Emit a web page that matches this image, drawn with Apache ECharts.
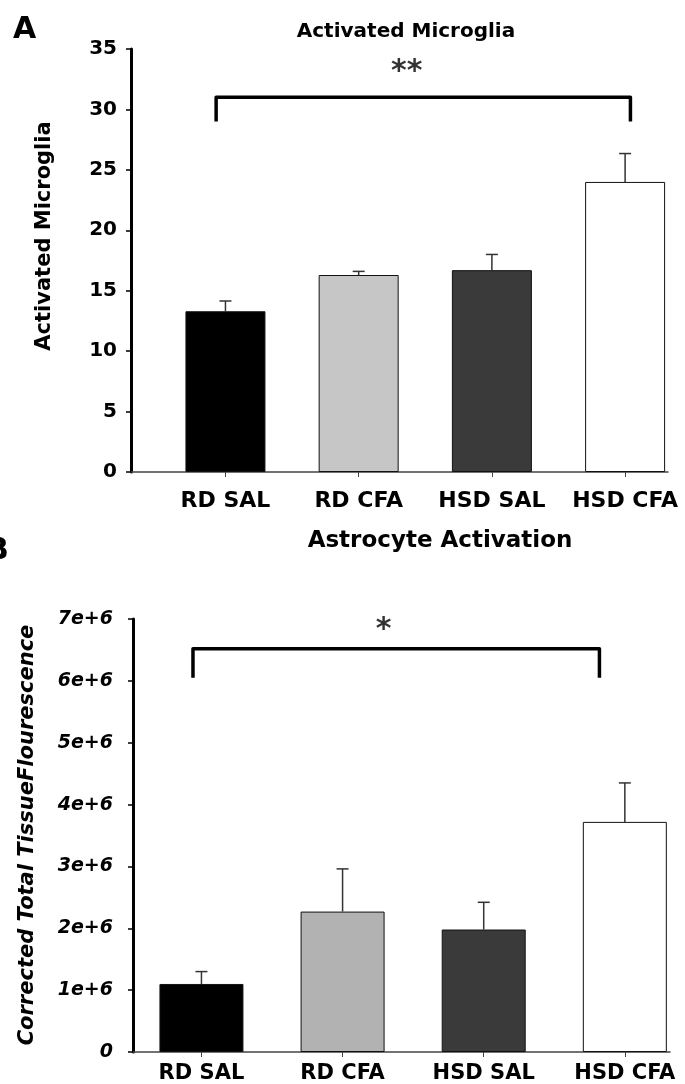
<!DOCTYPE html>
<html>
<head>
<meta charset="utf-8">
<script src="https://cdn.jsdelivr.net/npm/echarts@6/dist/echarts.min.js"></script>
<style>
  html, body { margin: 0; padding: 0; background: #fff; }
  #chart { width: 685px; height: 1084px; }
</style>
</head>
<body>
<div id="chart"></div>
<script>
const categories = ["RD SAL", "RD CFA", "HSD SAL", "HSD CFA"];

// panel A - activated microglia
const microgliaMean = [13.3, 16.3, 16.7, 24.0];
const microgliaErr = [0.85, 0.3, 1.3, 2.35];
const microgliaTicks = [0, 5, 10, 15, 20, 25, 30, 35];
const microgliaSig = [-0.07, 3.04, 29, 31]; // from, to, leg bottom, bar top
const microgliaStars = ["**", 1.36, 33.1];

// panel B - astrocyte activation
const astroMean = [1.1e6, 2.27e6, 1.98e6, 3.72e6];
const astroErr = [0.2e6, 0.69e6, 0.44e6, 0.63e6];
const astroTicks = [0, 1e6, 2e6, 3e6, 4e6, 5e6, 6e6, 7e6];
const astroSig = [-0.06, 2.82, 6.05e6, 6.52e6];
const astroStars = ["*", 1.29, 6.82e6];

const colorsA = ["#000000", "#c6c6c6", "#3a3a3a", "#ffffff"];
const colorsB = ["#000000", "#b2b2b2", "#3a3a3a", "#ffffff"];
const font = "DejaVu Sans";

const chart = echarts.init(document.getElementById("chart"));

function barData(vals, colors) {
  return vals.map((v, i) => ({ value: [i, v], itemStyle: { color: colors[i] } }));
}

function errData(mean, err) {
  return mean.map((v, i) => [i, v, v + err[i]]);
}

function renderErr(params, api) {
  const lo = api.coord([api.value(0), api.value(1)]);
  const hi = api.coord([api.value(0), api.value(2)]);
  const style = { stroke: "#333", lineWidth: 1.5 };
  return {
    type: "group",
    children: [
      { type: "line", shape: { x1: lo[0], y1: lo[1], x2: hi[0], y2: hi[1] }, style },
      { type: "line", shape: { x1: hi[0] - 6, y1: hi[1], x2: hi[0] + 6, y2: hi[1] }, style },
    ],
  };
}

function bracket(sig) {
  return [[sig[0], sig[2]], [sig[0], sig[3]], [sig[1], sig[3]], [sig[1], sig[2]]];
}

function starSeries(axis, stars) {
  return {
    type: "scatter",
    xAxisIndex: axis,
    yAxisIndex: axis,
    symbolSize: 0,
    label: {
      show: true,
      formatter: stars[0],
      color: "#000",
      fontFamily: font,
      fontWeight: "bold",
      fontSize: 30,
    },
    data: [[stars[1], stars[2]]],
  };
}

function xAxisOpt(gridIndex, min, max, margin, size) {
  return {
    type: "value",
    gridIndex,
    min,
    max,
    axisLine: { show: true, onZero: false, lineStyle: { color: "#444", width: 1.5 } },
    axisTick: { show: true, customValues: [0, 1, 2, 3], length: 5, lineStyle: { color: "#444" } },
    axisLabel: {
      customValues: [0, 1, 2, 3],
      formatter: (v) => categories[Math.round(v)],
      margin,
      color: "#000",
      fontFamily: font,
      fontWeight: "bold",
      fontSize: size,
    },
    splitLine: { show: false },
  };
}

function yAxisOpt(gridIndex, ticks, italic, labelSize, fmt, margin) {
  return {
    type: "value",
    gridIndex,
    min: ticks[0],
    max: ticks[ticks.length - 1],
    interval: ticks[1] - ticks[0],
    axisLine: { show: true, onZero: false, lineStyle: { color: "#000", width: 3 } },
    axisTick: { show: true, length: 5, lineStyle: { color: "#000", width: 1.5 } },
    axisLabel: {
      color: "#000",
      fontFamily: font,
      fontWeight: "bold",
      fontStyle: italic ? "italic" : "normal",
      fontSize: labelSize,
      margin,
      formatter: fmt,
    },
    splitLine: { show: false },
  };
}

chart.setOption({
  animation: false,
  grid: [
    { left: 131, top: 49, width: 537, height: 423 },
    { left: 133, top: 619, width: 537, height: 433 },
  ],
  xAxis: [
    xAxisOpt(0, -0.709, 3.322, 18, 22),
    xAxisOpt(1, -0.485, 3.32, 11, 21),
  ],
  yAxis: [
    yAxisOpt(0, microgliaTicks, false, 20, (v) => String(v), 14),
    yAxisOpt(1, astroTicks, true, 19, (v) => (v === 0 ? "0" : v / 1e6 + "e+6"), 20),
  ],
  graphic: [
    { type: "text", x: 13, y: 30, style: { text: "A", font: `bold 30px "${font}"`, fill: "#000", textVerticalAlign: "middle" } },
    { type: "text", x: 406, y: 32, style: { text: "Activated Microglia", font: `bold 20px "${font}"`, fill: "#000", textAlign: "center", textVerticalAlign: "middle" } },
    { type: "text", x: 45, y: 236, rotation: Math.PI / 2, style: { text: "Activated Microglia", font: `bold 21px "${font}"`, fill: "#000", textAlign: "center", textVerticalAlign: "middle" } },
    { type: "text", x: -14, y: 551, style: { text: "B", font: `bold 30px "${font}"`, fill: "#000", textVerticalAlign: "middle" } },
    { type: "text", x: 440, y: 541, style: { text: "Astrocyte Activation", font: `bold 23px "${font}"`, fill: "#000", textAlign: "center", textVerticalAlign: "middle" } },
    { type: "text", x: 28, y: 835, rotation: Math.PI / 2, style: { text: "Corrected Total TissueFlourescence", font: `italic bold 21px "${font}"`, fill: "#000", textAlign: "center", textVerticalAlign: "middle" } },
  ],
  series: [
    {
      type: "bar",
      xAxisIndex: 0,
      yAxisIndex: 0,
      barWidth: 80,
      itemStyle: { borderColor: "#111", borderWidth: 1 },
      data: barData(microgliaMean, colorsA),
      z: 2,
    },
    {
      type: "custom",
      xAxisIndex: 0,
      yAxisIndex: 0,
      renderItem: renderErr,
      data: errData(microgliaMean, microgliaErr),
      z: 3,
    },
    {
      type: "line",
      xAxisIndex: 0,
      yAxisIndex: 0,
      symbol: "none",
      lineStyle: { color: "#000", width: 3.5, join: "round" },
      data: bracket(microgliaSig),
    },
    starSeries(0, microgliaStars),
    {
      type: "bar",
      xAxisIndex: 1,
      yAxisIndex: 1,
      barWidth: 84,
      itemStyle: { borderColor: "#111", borderWidth: 1 },
      data: barData(astroMean, colorsB),
      z: 2,
    },
    {
      type: "custom",
      xAxisIndex: 1,
      yAxisIndex: 1,
      renderItem: renderErr,
      data: errData(astroMean, astroErr),
      z: 3,
    },
    {
      type: "line",
      xAxisIndex: 1,
      yAxisIndex: 1,
      symbol: "none",
      lineStyle: { color: "#000", width: 3.5, join: "round" },
      data: bracket(astroSig),
    },
    starSeries(1, astroStars),
  ],
});
</script>
</body>
</html>
